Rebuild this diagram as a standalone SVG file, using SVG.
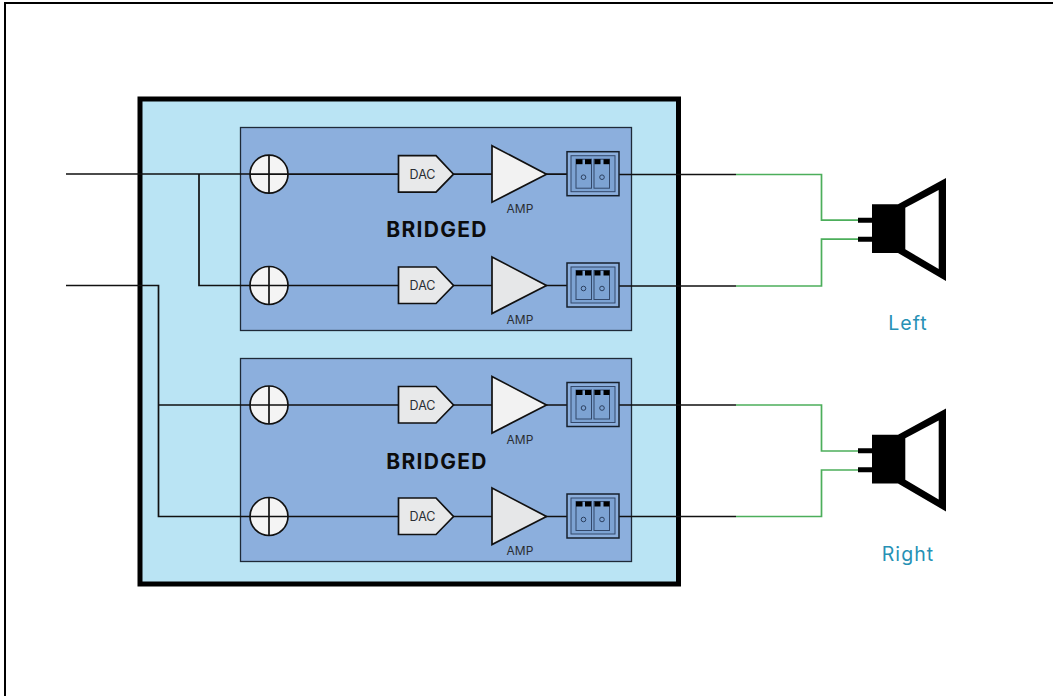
<svg xmlns="http://www.w3.org/2000/svg" xmlns:xlink="http://www.w3.org/1999/xlink" width="1053" height="696" viewBox="0 0 1053 696">
<style>
.w{fill:none;stroke:#111;stroke-width:1.7}
.g{fill:none;stroke:#4cae5b;stroke-width:1.7}
.k{stroke:#111;stroke-width:1.7}
.t{font-family:"Inter","Lato",sans-serif;fill:#2a2e33}
.sm{font-size:12px;text-anchor:middle}
.bd{font-family:"Inter","Lato",sans-serif;font-weight:700;font-size:21px;fill:#0c0c0c;text-anchor:middle;letter-spacing:1.300px}
.lb{font-family:"Inter","Lato",sans-serif;font-size:19.500px;fill:#2791b5;text-anchor:middle;letter-spacing:1.100px}
.c{fill:none;stroke:#2c4060;stroke-width:1}
</style>
<defs>
<g id="sum"><circle cx="269" cy="0" r="19" fill="#f4f4f4" class="k"/><path d="M250 0H288M269 -19V19" class="k" fill="none"/></g>
<g id="dac"><path d="M398.500 -18.500H436L453.500 0L436 18H398.500Z" fill="#e8e9ea" class="k"/><text x="422.500" y="4.500" class="t sm" style="font-size:12.500px">DAC</text></g>
<g id="term">
<rect x="567" y="-22.500" width="52" height="44" fill="#8cafdd" stroke="#16202c" stroke-width="1.500"/>
<rect x="571" y="-18.500" width="44" height="36" fill="#7da3d3" stroke="#33486a" stroke-width="1"/>
<rect x="576" y="-15" width="15.500" height="29" fill="#7da3d3" stroke="#33486a" stroke-width="1"/>
<rect x="594" y="-15" width="15.500" height="29" fill="#7da3d3" stroke="#33486a" stroke-width="1"/>
<rect x="576" y="-15" width="6.500" height="5" fill="#000"/><rect x="585" y="-15" width="6" height="5" fill="#000"/>
<rect x="594.500" y="-15" width="6" height="5" fill="#000"/><rect x="603.500" y="-15" width="6" height="5" fill="#000"/>
<circle cx="583.500" cy="3" r="2.300" class="c"/><circle cx="602" cy="3" r="2.300" class="c"/>
</g>
<g id="spk"><path d="M872 204.300H898L946 178V281L898 253H872V241.700H858V236.700H872V222.700H858V217.700H872Z" fill="#000"/><path d="M905.300 207.700L938.700 190V269L905.300 249.300Z" fill="#fff"/></g>
</defs>
<rect id="frame" x="5" y="3" width="1060" height="710" fill="#fff" stroke="#000" stroke-width="2"/>
<g id="enclosure"><rect x="140" y="99" width="538.500" height="485" fill="#bae4f4" stroke="#000" stroke-width="5"/></g>
<g id="module-top"><rect x="240.500" y="127.500" width="391" height="203" fill="#8cafdd" stroke="#1f2a38" stroke-width="1.300"/><text x="437" y="237" class="bd">BRIDGED</text></g>
<g id="module-bottom"><rect x="240.500" y="358.500" width="391" height="203" fill="#8cafdd" stroke="#1f2a38" stroke-width="1.300"/><text x="437" y="468.500" class="bd">BRIDGED</text></g>
<g id="connectors">
<path class="w" d="M66 174H250M199 174V285.500H250M66 285.500H158.500V516.500H250M158.500 405H250"/>
<path class="w" d="M288 174.200H398M288 285.500H398M288 405H398M288 516.500H398"/>
<path class="w" d="M453 174.200H492M453 285.500H492M453 405H492M453 516.500H492"/>
<path class="w" d="M546 174.200H567M546 285.500H567M546 405H567M546 516.500H567"/>
<path class="w" d="M619 174.500H736M619 286H736M619 405H736M619 516.500H736"/>
<path class="g" d="M736 174.500H821.500V220.200H858M736 286H821.500V239.200H858"/>
<path class="g" d="M736 405H821.500V451H858M736 516.500H821.500V470H858"/>
</g>
<g id="channel-1" transform="translate(0,174.200)"><use xlink:href="#sum"/><use xlink:href="#dac"/><path d="M492 -28.500L546.500 0L492 28Z" fill="#f2f2f2" class="k"/><text x="520" y="38.500" class="t sm">AMP</text><use xlink:href="#term"/></g>
<g id="channel-2" transform="translate(0,285.500)"><use xlink:href="#sum"/><use xlink:href="#dac"/><path d="M492 -28.500L546.500 0L492 28Z" fill="#e6e7e8" class="k"/><text x="520" y="38.500" class="t sm">AMP</text><use xlink:href="#term"/></g>
<g id="channel-3" transform="translate(0,405)"><use xlink:href="#sum"/><use xlink:href="#dac"/><path d="M492 -28.500L546.500 0L492 28Z" fill="#f2f2f2" class="k"/><text x="520" y="38.500" class="t sm">AMP</text><use xlink:href="#term"/></g>
<g id="channel-4" transform="translate(0,516.500)"><use xlink:href="#sum"/><use xlink:href="#dac"/><path d="M492 -28.500L546.500 0L492 28Z" fill="#e6e7e8" class="k"/><text x="520" y="38.500" class="t sm">AMP</text><use xlink:href="#term"/></g>
<g id="speaker-left"><use xlink:href="#spk"/></g>
<g id="speaker-right" transform="translate(0,230.500)"><use xlink:href="#spk"/></g>
<text x="908" y="329.500" class="lb">Left</text>
<text x="908" y="560.500" class="lb">Right</text>
</svg>
